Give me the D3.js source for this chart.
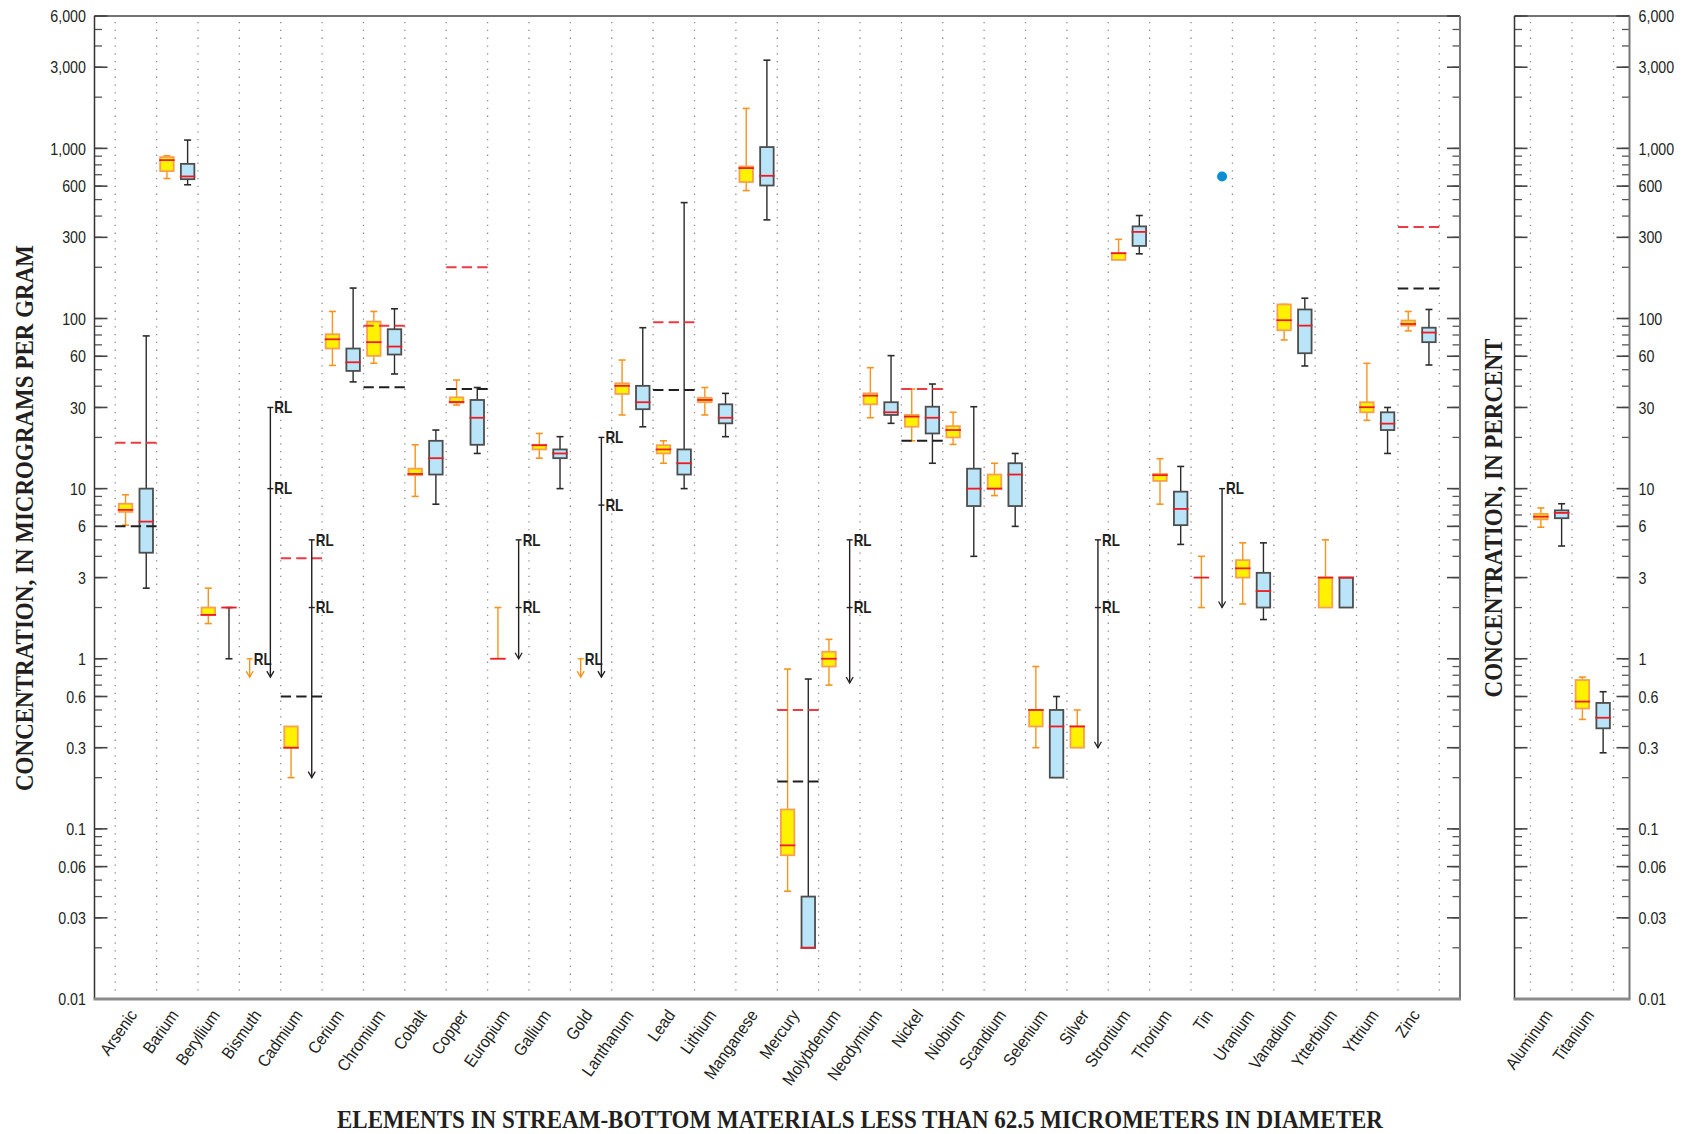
<!DOCTYPE html>
<head>
  <meta charset="utf-8">
  <script src="https://d3js.org/d3.v7.min.js"></script>
  <style type="text/css">
body { margin:0; background:#fff; }
.tick-label {
    font-family: "Liberation Sans", Arial, sans-serif;
    font-size: 17px;
    fill: #231f20;
}
.cat-label {
    font-family: "Liberation Sans", Arial, sans-serif;
    font-size: 17px;
    fill: #231f20;
}
.title {
    font-family: "Liberation Serif", "Times New Roman", serif;
    font-weight: bold;
    font-size: 26px;
    fill: #231f20;
}
.rl {
    font-family: "Liberation Sans", Arial, sans-serif;
    font-weight: bold;
    font-size: 16px;
    fill: #231f20;
}
.grid { stroke: #8c8c8c; stroke-width: 1.3; stroke-dasharray: 1.3 6.5; }
  </style>
</head>

<body>
  <script>

var categories = ["Arsenic", "Barium", "Beryllium", "Bismuth", "Cadmium", "Cerium", "Chromium", "Cobalt",
  "Copper", "Europium", "Gallium", "Gold", "Lanthanum", "Lead", "Lithium", "Manganese", "Mercury",
  "Molybdenum", "Neodymium", "Nickel", "Niobium", "Scandium", "Selenium", "Silver", "Strontium",
  "Thorium", "Tin", "Uranium", "Vanadium", "Ytterbium", "Yttrium", "Zinc"];
var panelCategories = ["Aluminum", "Titanium"];

// [low whisker, 25th, median, 75th, high whisker], null = not drawn
var yellowStats = [
  [6.1, 7.3, 7.5, 8.15, 9.2], [665, 735, 853, 889, 905], [1.61, 1.81, 1.81, 2.0, 2.6], null,
  [0.2, 0.3, 0.3, 0.4, null], [53, 66.6, 75.5, 80.8, 110], [54.6, 60.3, 72.6, 96, 110],
  [9.0, 12.0, 12.2, 13.1, 18.1], [31, 32, 32.3, 34.4, 43.5], [null, 1, 1, 1, 2],
  [15.1, 17.0, 18, 18.1, 21.1], null, [27.1, 36, 40.2, 41.6, 57], [14.1, 16.1, 17, 18, 19.1],
  [27.1, 32.2, 33.2, 34.2, 39.3], [565, 634, 766, 783, 1718], [0.043, 0.07, 0.08, 0.13, 0.87],
  [0.7, 0.9, 1.0, 1.1, 1.3], [26.1, 31.3, 35.2, 36.3, 51.4], [19.1, 23.1, 26.5, 27.1, 38.5],
  [18.2, 20.0, 22.1, 23.3, 28.1], [9.1, 10, 10, 12.1, 14.1], [0.3, 0.4, 0.5, 0.5, 0.9],
  [null, 0.3, 0.4, 0.4, 0.5], [null, 221, 242, 242, 292], [8.1, 11.1, 12.0, 12.2, 15.0],
  [2, 3, 3, 3, 4], [2.1, 3.0, 3.4, 3.8, 4.8], [74.8, 85.3, 97.7, 121, 121], [null, 2, 3, 3, 5],
  [25.2, 28.1, 30.1, 32.2, 54.5], [84.6, 90.8, 92.9, 97.3, 110]
];
var blueStats = [
  [2.6, 4.2, 6.4, 10, 79], [611, 659, 684, 811, 1119], [1, 2, 2, 2, 2], null, null,
  [42.4, 49.2, 55.3, 66.6, 151], [47.2, 61.4, 68.4, 86.5, 114], [8.1, 12.1, 15.1, 19.1, 22.1],
  [16.1, 18.1, 26.1, 33.2, 39.3], null, [10, 15.1, 16.1, 17.0, 20.2], null,
  [23.1, 29.3, 32.2, 40.2, 88.3], [10, 12.1, 14.1, 17, 480], [20.2, 24.2, 26.1, 31.3, 36.3],
  [380, 605, 690, 1018, 3300], [null, 0.02, 0.02, 0.04, 0.76], null, [24.2, 27.1, 28.1, 32.2, 60.5],
  [14.1, 21.1, 26.1, 30.3, 41.2], [4.0, 7.9, 10, 13.1, 30.3], [6.0, 7.9, 12.1, 14.1, 16.1],
  [null, 0.2, 0.4, 0.5, 0.6], null, [240, 267, 323, 348, 403], [4.7, 6.1, 7.6, 9.6, 13.5], null,
  [1.7, 2.0, 2.5, 3.2, 4.8], [52.6, 62.5, 90.8, 113, 131.6], [null, 2, 3, 3, null],
  [16.1, 22.1, 24.1, 28.1, 30], [53.3, 72.6, 82.7, 88.3, 113]
];
var panelYellowStats = [[5.93, 6.6, 6.84, 7.1, 7.7], [0.44, 0.51, 0.56, 0.75, 0.78]];
var panelBlueStats = [[4.6, 6.7, 7.2, 7.45, 8.15], [0.28, 0.39, 0.45, 0.55, 0.64]];

// dashed reference lines
var redLineElements = ["Arsenic", "Cadmium", "Chromium", "Copper", "Lead", "Mercury", "Nickel", "Zinc"];
var redLineValues = [18.6, 3.9, 90.8, 200, 95, 0.5, 38.5, 345];
var blackLineElements = ["Arsenic", "Cadmium", "Chromium", "Copper", "Lead", "Mercury", "Nickel", "Zinc"];
var blackLineValues = [6, 0.6, 39.5, 38.5, 38, 0.19, 19.1, 150];

// reporting-limit markers
var rlElements = ["Bismuth", "Bismuth", "Cadmium", "Europium", "Gold", "Gold", "Molybdenum", "Silver", "Tin"];
var rlSeries = ["yellow", "blue", "blue", "blue", "yellow", "blue", "blue", "blue", "blue"];
var rlTop = [1, 30, 5, 5, 1, 20, 5, 5, 10];
var rlValues = [[1], [30, 10], [5, 2], [5, 2], [1], [20, 8], [5, 2], [5, 2], [10]];
var rlBottom = [0.78, 0.78, 0.2, 1.0, 0.78, 0.78, 0.72, 0.3, 2];

var outlierElements = ["Tin"];
var outlierValues = [684];

var tickValues = [6000, 3000, 1000, 600, 300, 100, 60, 30, 10, 6, 3, 1, 0.6, 0.3, 0.1, 0.06, 0.03, 0.01];
var tickLabels = ["6,000", "3,000", "1,000", "600", "300", "100", "60", "30", "10", "6", "3", "1",
  "0.6", "0.3", "0.1", "0.06", "0.03", "0.01"];

var width = 1688, height = 1134;
var plotTop = 16, plotBottom = 999;
var main = {left: 94.5, right: 1460};
var side = {left: 1514.5, right: 1629.5};
var narrow = 0.84;

var svg = d3.select("body").append("svg")
    .attr("width", width)
    .attr("height", height);

var yScale = d3.scaleLog()
    .domain([0.01, 6000])
    .range([plotBottom, plotTop]);

var xMain = d3.scaleBand()
    .domain(categories)
    .range([main.left + 20.7, main.right - 20.7]);

var xSide = d3.scaleBand()
    .domain(panelCategories)
    .range([side.left + 16, side.right - 16]);

var minorTicks = [];
[0.01, 0.1, 1, 10, 100, 1000].forEach(function(d) {
  for (var m = 1; m < 10; m++) {
    if (d * m <= 6000) minorTicks.push(d * m);
  }
});

function drawFrame(box, scale) {
  var g = svg.append("g");
  // dotted separators
  var edges = scale.domain().map(function(d) { return scale(d); });
  edges.push(scale.range()[1]);
  g.selectAll(".grid").data(edges).enter().append("line")
    .attr("class", "grid")
    .attr("x1", function(d) { return d; })
    .attr("x2", function(d) { return d; })
    .attr("y1", plotTop + 6)
    .attr("y2", plotBottom - 2);

  // ticks, inward on both sides
  [[box.left, 1], [box.right, -1]].forEach(function(s) {
    g.selectAll(null).data(minorTicks).enter().append("line")
      .attr("x1", s[0]).attr("x2", s[0] + s[1] * 7.5)
      .attr("y1", function(d) { return yScale(d); })
      .attr("y2", function(d) { return yScale(d); })
      .attr("stroke", "#555").attr("stroke-width", 1.3);
    g.selectAll(null).data(tickValues).enter().append("line")
      .attr("x1", s[0]).attr("x2", s[0] + s[1] * 13)
      .attr("y1", function(d) { return yScale(d); })
      .attr("y2", function(d) { return yScale(d); })
      .attr("stroke", "#444").attr("stroke-width", 1.6);
  });

  g.append("line").attr("x1", box.left).attr("x2", box.right)
    .attr("y1", plotTop).attr("y2", plotTop)
    .attr("stroke", "#444").attr("stroke-width", 1.5);
  g.append("line").attr("x1", box.left).attr("x2", box.left)
    .attr("y1", plotTop).attr("y2", plotBottom)
    .attr("stroke", "#333").attr("stroke-width", 1.5);
  g.append("line").attr("x1", box.right).attr("x2", box.right)
    .attr("y1", plotTop).attr("y2", plotBottom)
    .attr("stroke", "#777").attr("stroke-width", 2);
  g.append("line").attr("x1", box.left - 1).attr("x2", box.right + 1)
    .attr("y1", plotBottom).attr("y2", plotBottom)
    .attr("stroke", "#8a8a8a").attr("stroke-width", 3);
}

drawFrame(main, xMain);
drawFrame(side, xSide);

// tick labels (condensed look by narrowing the glyphs)
svg.append("g").selectAll("text").data(tickValues).enter().append("text")
  .attr("class", "tick-label")
  .attr("transform", function(d) { return "translate(86," + yScale(d) + ") scale(" + narrow + ",1)"; })
  .attr("dy", "0.36em")
  .attr("text-anchor", "end")
  .text(function(d, i) { return tickLabels[i]; });

svg.append("g").selectAll("text").data(tickValues).enter().append("text")
  .attr("class", "tick-label")
  .attr("transform", function(d) { return "translate(" + (side.right + 9) + "," + yScale(d) + ") scale(" + narrow + ",1)"; })
  .attr("dy", "0.36em")
  .text(function(d, i) { return tickLabels[i]; });

// category labels
function drawLabels(scale) {
  svg.append("g").selectAll("text").data(scale.domain()).enter().append("text")
    .attr("class", "cat-label")
    .attr("text-anchor", "end")
    .attr("transform", function(d) {
      return "translate(" + (scale(d) + scale.bandwidth() / 2 + 2) + "," + (plotBottom + 16) + ") rotate(-55) scale(0.9,1)";
    })
    .text(function(d) { return d; });
}
drawLabels(xMain);
drawLabels(xSide);

var boxW = 13.5;

function drawBox(g, cx, s, kind) {
  if (!s) return;
  var wColor = kind == "yellow" ? "#f7941d" : "#2b2b2b";
  var lo = s[0] != null ? s[0] : s[1];
  var hi = s[4] != null ? s[4] : s[3];
  if (lo < hi) {
    g.append("line")
      .attr("x1", cx).attr("x2", cx)
      .attr("y1", yScale(lo)).attr("y2", yScale(hi))
      .attr("stroke", wColor).attr("stroke-width", 1.4);
  }
  [s[0], s[4]].forEach(function(v) {
    if (v == null) return;
    g.append("line")
      .attr("x1", cx - 3.5).attr("x2", cx + 3.5)
      .attr("y1", yScale(v)).attr("y2", yScale(v))
      .attr("stroke", wColor).attr("stroke-width", 1.6);
  });
  if (s[3] > s[1]) {
    g.append("rect")
      .attr("x", cx - boxW / 2)
      .attr("y", yScale(s[3]))
      .attr("width", boxW)
      .attr("height", yScale(s[1]) - yScale(s[3]))
      .attr("fill", kind == "yellow" ? "#fff200" : "#bae4f7")
      .attr("stroke", kind == "yellow" ? "#f9a04e" : "#4d4d4d")
      .attr("stroke-width", 1.8);
  }
  g.append("line")
    .attr("x1", cx - boxW / 2 - 1).attr("x2", cx + boxW / 2 + 1)
    .attr("y1", yScale(s[2])).attr("y2", yScale(s[2]))
    .attr("stroke", "#ed1c24").attr("stroke-width", 1.8);
}

var boxes = svg.append("g");
categories.forEach(function(c, i) {
  var bw = xMain.bandwidth();
  drawBox(boxes, xMain(c) + bw * 0.25, yellowStats[i], "yellow");
  drawBox(boxes, xMain(c) + bw * 0.75, blueStats[i], "blue");
});
panelCategories.forEach(function(c, i) {
  var bw = xSide.bandwidth();
  drawBox(boxes, xSide(c) + bw * 0.25, panelYellowStats[i], "yellow");
  drawBox(boxes, xSide(c) + bw * 0.75, panelBlueStats[i], "blue");
});

// dashed guideline values
function drawDashed(names, values, color) {
  var bw = xMain.bandwidth();
  svg.append("g").selectAll("line").data(names).enter().append("line")
    .attr("x1", function(d) { return xMain(d); })
    .attr("x2", function(d) { return xMain(d) + bw; })
    .attr("y1", function(d, i) { return yScale(values[i]); })
    .attr("y2", function(d, i) { return yScale(values[i]); })
    .attr("stroke", color)
    .attr("stroke-width", 2)
    .attr("stroke-dasharray", (bw * 0.25) + " " + (bw * 0.125));
}
drawDashed(redLineElements, redLineValues, "#ec3b44");
drawDashed(blackLineElements, blackLineValues, "#231f20");

// RL markers
var rl = svg.append("g");
rlElements.forEach(function(el, i) {
  var bw = xMain.bandwidth();
  var cx = xMain(el) + (rlSeries[i] == "yellow" ? bw * 0.25 : bw * 0.75);
  var color = rlSeries[i] == "yellow" ? "#f7941d" : "#231f20";
  var yb = yScale(rlBottom[i]);
  rl.append("line")
    .attr("x1", cx).attr("x2", cx)
    .attr("y1", yScale(rlTop[i])).attr("y2", yb)
    .attr("stroke", color).attr("stroke-width", 1.4);
  rl.append("path")
    .attr("d", "M" + (cx - 3.5) + "," + (yb - 6) + "L" + cx + "," + yb + "L" + (cx + 3.5) + "," + (yb - 6))
    .attr("fill", "none").attr("stroke", color).attr("stroke-width", 1.3);
  rlValues[i].forEach(function(v) {
    rl.append("line")
      .attr("x1", cx - 3).attr("x2", cx + 3)
      .attr("y1", yScale(v)).attr("y2", yScale(v))
      .attr("stroke", color).attr("stroke-width", 1.4);
    rl.append("text")
      .attr("class", "rl")
      .attr("transform", "translate(" + (cx + 4) + "," + yScale(v) + ") scale(" + narrow + ",1)")
      .attr("dy", "0.36em")
      .text("RL");
  });
});

// outlier
svg.append("g").selectAll("circle").data(outlierElements).enter().append("circle")
  .attr("cx", function(d) { return xMain(d) + xMain.bandwidth() * 0.75; })
  .attr("cy", function(d, i) { return yScale(outlierValues[i]); })
  .attr("r", 5)
  .attr("fill", "#0a8fd6");

// axis titles
svg.append("text")
  .attr("class", "title")
  .attr("transform", "translate(32.5,518) rotate(-90)")
  .attr("text-anchor", "middle")
  .attr("textLength", 546)
  .attr("lengthAdjust", "spacingAndGlyphs")
  .text("CONCENTRATION, IN MICROGRAMS PER GRAM");

svg.append("text")
  .attr("class", "title")
  .attr("transform", "translate(1502,518) rotate(-90)")
  .attr("text-anchor", "middle")
  .attr("textLength", 359)
  .attr("lengthAdjust", "spacingAndGlyphs")
  .text("CONCENTRATION, IN PERCENT");

svg.append("text")
  .attr("class", "title")
  .attr("x", 860)
  .attr("y", 1128)
  .attr("text-anchor", "middle")
  .attr("textLength", 1046)
  .attr("lengthAdjust", "spacingAndGlyphs")
  .text("ELEMENTS IN STREAM-BOTTOM MATERIALS LESS THAN 62.5 MICROMETERS IN DIAMETER");

  </script>
</body>
